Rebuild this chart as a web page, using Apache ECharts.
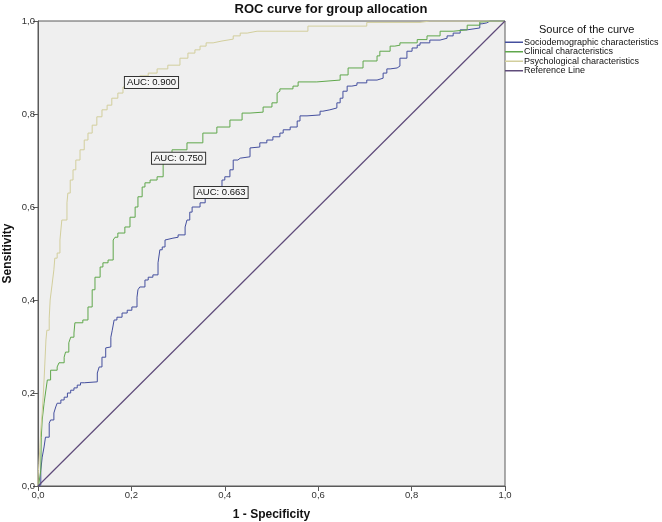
<!DOCTYPE html>
<html>
<head>
<meta charset="utf-8">
<script src="https://cdn.jsdelivr.net/npm/echarts@6/dist/echarts.min.js"></script>
<style>
  html, body { margin: 0; padding: 0; background: #ffffff; }
  #chart { width: 662px; height: 522px; }
</style>
</head>
<body>
<div id="chart"></div>
<script>
// ROC points as [1 - specificity, sensitivity]
var socioRoc = [
  [0,0],[0.006,0.002],[0.009,0.034],[0.013,0.062],[0.016,0.084],[0.024,0.105],[0.027,0.135],
  [0.034,0.142],[0.038,0.157],[0.041,0.170],[0.049,0.178],[0.056,0.185],[0.063,0.191],
  [0.070,0.200],[0.077,0.206],[0.084,0.211],[0.091,0.217],[0.099,0.222],[0.127,0.224],
  [0.131,0.243],[0.137,0.256],[0.145,0.277],[0.148,0.297],[0.156,0.299],[0.159,0.320],
  [0.163,0.335],[0.169,0.357],[0.180,0.363],[0.191,0.372],[0.201,0.378],[0.212,0.385],
  [0.214,0.406],[0.218,0.422],[0.229,0.428],[0.236,0.443],[0.246,0.449],[0.257,0.454],
  [0.261,0.480],[0.266,0.508],[0.272,0.514],[0.276,0.529],[0.289,0.533],[0.300,0.535],
  [0.315,0.540],[0.319,0.557],[0.325,0.572],[0.330,0.589],[0.347,0.600],[0.358,0.609],
  [0.368,0.622],[0.373,0.637],[0.394,0.643],[0.400,0.658],[0.411,0.665],[0.418,0.680],
  [0.428,0.701],[0.433,0.705],[0.454,0.708],[0.458,0.727],[0.475,0.729],[0.490,0.738],
  [0.503,0.744],[0.518,0.751],[0.525,0.759],[0.540,0.766],[0.555,0.772],[0.561,0.785],
  [0.576,0.796],[0.604,0.798],[0.610,0.806],[0.625,0.809],[0.640,0.813],[0.647,0.824],
  [0.653,0.834],[0.662,0.849],[0.672,0.860],[0.683,0.862],[0.704,0.867],[0.726,0.873],
  [0.739,0.877],[0.747,0.888],[0.754,0.897],[0.769,0.899],[0.775,0.903],[0.790,0.920],
  [0.801,0.935],[0.812,0.942],[0.818,0.948],[0.839,0.953],[0.861,0.959],[0.876,0.963],
  [0.889,0.968],[0.904,0.974],[0.919,0.981],[0.946,0.985],[0.951,0.994],[0.961,0.996],
  [0.968,1],[1,1]
];
var clinicalRoc = [
  [0,0],[0.002,0.004],[0.006,0.006],[0.007,0.034],[0.009,0.105],[0.013,0.142],[0.016,0.178],
  [0.020,0.200],[0.027,0.228],[0.031,0.249],[0.041,0.249],[0.045,0.256],[0.056,0.265],
  [0.059,0.277],[0.066,0.288],[0.070,0.308],[0.077,0.320],[0.079,0.329],[0.096,0.351],
  [0.107,0.357],[0.116,0.385],[0.122,0.422],[0.133,0.449],[0.139,0.471],[0.150,0.480],
  [0.161,0.486],[0.165,0.529],[0.171,0.535],[0.186,0.544],[0.197,0.557],[0.208,0.578],
  [0.214,0.600],[0.223,0.622],[0.229,0.643],[0.240,0.652],[0.255,0.658],[0.268,0.665],
  [0.287,0.695],[0.319,0.723],[0.353,0.738],[0.383,0.759],[0.411,0.772],[0.437,0.787],
  [0.454,0.802],[0.482,0.804],[0.501,0.815],[0.512,0.824],[0.514,0.845],[0.518,0.849],
  [0.546,0.854],[0.557,0.860],[0.597,0.869],[0.647,0.873],[0.664,0.884],[0.696,0.899],
  [0.726,0.914],[0.732,0.925],[0.754,0.935],[0.764,0.946],[0.775,0.948],[0.812,0.953],
  [0.833,0.960],[0.861,0.968],[0.889,0.978],[0.919,0.981],[0.946,0.991],[0.953,0.998],
  [0.968,1],[1,1]
];
var psychRoc = [
  [0,0],[0.001,0.017],[0.002,0.034],[0.004,0.049],[0.006,0.082],[0.009,0.120],[0.011,0.159],
  [0.013,0.191],[0.015,0.228],[0.017,0.271],[0.019,0.314],[0.024,0.335],[0.026,0.361],
  [0.030,0.400],[0.034,0.432],[0.036,0.465],[0.041,0.490],[0.047,0.501],[0.051,0.529],
  [0.054,0.572],[0.062,0.572],[0.064,0.609],[0.069,0.630],[0.075,0.658],[0.081,0.680],
  [0.090,0.701],[0.099,0.723],[0.107,0.744],[0.116,0.759],[0.126,0.776],[0.137,0.794],
  [0.148,0.809],[0.158,0.819],[0.171,0.834],[0.182,0.845],[0.191,0.858],[0.197,0.869],
  [0.218,0.875],[0.236,0.882],[0.255,0.888],[0.278,0.897],[0.304,0.905],[0.321,0.920],
  [0.336,0.931],[0.347,0.938],[0.360,0.946],[0.375,0.953],[0.394,0.957],[0.418,0.961],
  [0.433,0.968],[0.448,0.974],[0.469,0.978],[0.578,0.978],[0.582,0.989],[0.704,0.989],
  [0.707,0.997],[0.818,0.997],[0.839,1],[1,1]
];
var referenceLine = [[0,0],[1,1]];

var seriesNames = ['Sociodemographic characteristics', 'Clinical characteristics',
                   'Psychological characteristics', 'Reference Line'];
var aucValues = ['0.663', '0.750', '0.900'];

var colors = ['#444f9e', '#5fa74b', '#d2ce9c', '#5f4b7a'];
// where the AUC boxes sit (data coords)
var aucAt = [[0.392, 0.631], [0.301, 0.705], [0.243, 0.868]];

var chart = echarts.init(document.getElementById('chart'));

function fmt(v) { return v.toFixed(1).replace('.', ','); }

function aucMark(i) {
  return {
    silent: true,
    symbol: 'rect',
    symbolSize: 0,
    label: {
      show: true,
      position: 'inside',
      formatter: 'AUC: ' + aucValues[i],
      color: '#111',
      fontSize: 9.5,
      fontFamily: 'Liberation Sans',
      backgroundColor: '#f5f5f5',
      borderColor: '#333',
      borderWidth: 1,
      padding: [1, 2, 0, 2]
    },
    data: [{ coord: aucAt[i] }]
  };
}

function rocSeries(name, data, color, mark) {
  return {
    name: name,
    type: 'line',
    data: data,
    step: 'start',
    symbol: 'none',
    showSymbol: false,
    animation: false,
    lineStyle: { color: color, width: 1 },
    itemStyle: { color: color },
    markPoint: mark
  };
}

var option = {
  backgroundColor: '#ffffff',
  animation: false,
  textStyle: { fontFamily: 'Liberation Sans' },
  title: [{
    text: 'ROC curve for group allocation',
    left: 'center',
    top: -2,
    textStyle: { fontSize: 13, fontWeight: 'bold', color: '#111', fontFamily: 'Liberation Sans' }
  }, {
    text: 'Source of the curve',
    left: 534,
    top: 19,
    textStyle: { fontSize: 11, fontWeight: 'normal', color: '#111', fontFamily: 'Liberation Sans' }
  }],
  legend: {
    orient: 'vertical',
    left: 505,
    top: 37.5,
    itemGap: 0,
    itemWidth: 18,
    itemHeight: 1.5,
    icon: 'rect',
    padding: 0,
    data: seriesNames,
    textStyle: { fontSize: 9, color: '#111', lineHeight: 9.5, padding: [0, 0, 0, -4], fontFamily: 'Liberation Sans' }
  },
  grid: {
    left: 38, top: 21, width: 467, height: 465,
    outerBoundsMode: 'none',
    containLabel: false,
    show: true,
    backgroundColor: '#efefef',
    borderColor: '#5a5a5a',
    borderWidth: 1
  },
  xAxis: {
    type: 'value',
    min: 0, max: 1, interval: 0.2,
    name: '1 - Specificity',
    nameLocation: 'middle',
    nameGap: 23,
    nameMoveOverlap: false,
    nameTextStyle: { fontSize: 12, fontWeight: 'bold', color: '#111' },
    axisLine: { show: true, lineStyle: { color: '#5a5a5a' } },
    axisTick: { show: true, length: 5, lineStyle: { color: '#5a5a5a' } },
    axisLabel: { fontSize: 9.5, color: '#333', margin: 4, formatter: function (v) { return fmt(v); } },
    splitLine: { show: false }
  },
  yAxis: {
    type: 'value',
    min: 0, max: 1, interval: 0.2,
    name: 'Sensitivity',
    nameLocation: 'middle',
    nameGap: 24,
    nameMoveOverlap: false,
    nameTextStyle: { fontSize: 12, fontWeight: 'bold', color: '#111' },
    axisLine: { show: true, lineStyle: { color: '#5a5a5a' } },
    axisTick: { show: true, length: 5, lineStyle: { color: '#5a5a5a' } },
    axisLabel: { fontSize: 9.5, color: '#333', margin: 3, formatter: function (v) { return fmt(v); } },
    splitLine: { show: false }
  },
  series: [
    rocSeries(seriesNames[0], socioRoc, colors[0], aucMark(0)),
    rocSeries(seriesNames[1], clinicalRoc, colors[1], aucMark(1)),
    rocSeries(seriesNames[2], psychRoc, colors[2], aucMark(2)),
    {
      name: seriesNames[3],
      type: 'line',
      data: referenceLine,
      symbol: 'none',
      animation: false,
      lineStyle: { color: colors[3], width: 1.2 },
      itemStyle: { color: colors[3] }
    }
  ]
};
option && chart && chart.setOption(option);
</script>
</body>
</html>
